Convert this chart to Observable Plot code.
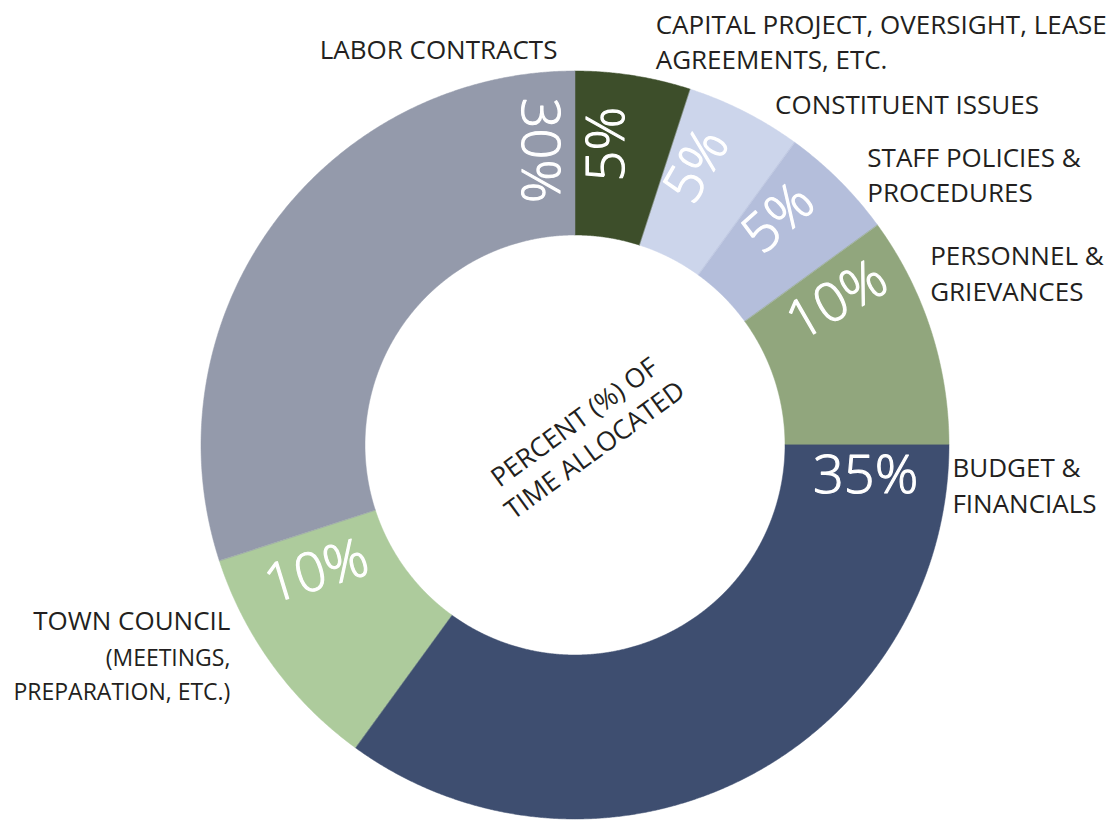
<!DOCTYPE html>
<html><head><meta charset="utf-8">
<script src="https://cdn.jsdelivr.net/npm/d3@7"></script>
<script src="https://cdn.jsdelivr.net/npm/@observablehq/plot@0.6"></script>
<style>html,body{margin:0;padding:0;background:#fff}</style>
</head><body><div id="chart"></div>
<script>
// ---- data ----
const categories = [
  "Capital project, oversight, lease agreements, etc.",
  "Constituent issues",
  "Staff policies & procedures",
  "Personnel & grievances",
  "Budget & financials",
  "Town council",
  "Labor contracts"
];
const percents = [5, 5, 5, 10, 35, 10, 30];
const percentLabels = ["5%", "5%", "5%", "10%", "35%", "10%", "30%"];
const categoryLabels = [
  "CAPITAL PROJECT, OVERSIGHT, LEASE\nAGREEMENTS, ETC.",
  "CONSTITUENT ISSUES",
  "STAFF POLICIES &\nPROCEDURES",
  "PERSONNEL &\nGRIEVANCES",
  "BUDGET &\nFINANCIALS",
  "TOWN COUNCIL",
  "LABOR CONTRACTS"
];
const categoryNotes = ["", "", "", "", "", "(MEETINGS,\nPREPARATION, ETC.)", ""];
const centerTitle = "PERCENT (%) OF\nTIME ALLOCATED";
const colors = ["#3d4e2a", "#ccd5eb", "#b4bedb", "#91a67d", "#3e4e70", "#adcb9c", "#949aab"];

// ---- layout (styling only) ----
const W = 1115, H = 821, CX = 575, CY = 445, R = 374, INNER = 0.5615;
const valueLayout = [ // angle (deg clockwise from top), radius (fraction of outer), rotation
  {angle: 6, r: 0.81, rotate: -90},
  {angle: 23.5, r: 0.815, rotate: -60},
  {angle: 41.8, r: 0.815, rotate: -42},
  {angle: 61, r: 0.80, rotate: -30},
  {angle: 96, r: 0.78, rotate: 0},
  {angle: 244, r: 0.77, rotate: -17},
  {angle: -7, r: 0.795, rotate: 90}
];
const nameLayout = [
  {angle: 11.2, r: 1.104, anchor: "start"},
  {angle: 30.2, r: 1.061, anchor: "start"},
  {angle: 47, r: 1.067, anchor: "start"},
  {angle: 63.9, r: 1.056, anchor: "start"},
  {angle: 95.8, r: 1.013, anchor: "start"},
  {angle: 243.4, r: 1.032, anchor: "end"},
  {angle: -2.6, r: 1.064, anchor: "end"}
];
const noteLayout = {5: {angle: 236.7, r: 1.104}};

// ---- geometry from data ----
const pie = d3.pie().sort(null).value(d => d)(percents);
const ring = [];
pie.forEach((p, i) => {
  const n = Math.ceil((p.endAngle - p.startAngle) / (Math.PI / 720)) + 1;
  for (let k = 0; k < n; k++) {
    const a = p.startAngle + (p.endAngle - p.startAngle) * k / (n - 1);
    ring.push({cat: categories[i], x1: Math.sin(a), y1: Math.cos(a), x2: INNER * Math.sin(a), y2: INNER * Math.cos(a)});
  }
});
const rad = d => d * Math.PI / 180;
const polar = L => ({x: L.r * Math.sin(rad(L.angle)), y: L.r * Math.cos(rad(L.angle))});
const valueRows = percents.map((v, i) => ({text: percentLabels[i], ...polar(valueLayout[i]), rotate: valueLayout[i].rotate}));
const nameRows = categoryLabels.map((t, i) => ({text: t, ...polar(nameLayout[i]), anchor: nameLayout[i].anchor}));
const noteRows = categoryNotes.map((t, i) => t ? {text: t, ...polar(noteLayout[i])} : null).filter(Boolean);

const font = "'Open Sans', 'Noto Sans', sans-serif";
const ink = "#231f20";
const chart = Plot.plot({
  width: W, height: H,
  margin: 0,
  x: {domain: [-1, 1], range: [CX - R, CX + R], axis: null},
  y: {domain: [-1, 1], range: [CY + R, CY - R], axis: null},
  color: {domain: categories, range: colors},
  style: {background: "#fff"},
  marks: [
    Plot.area(ring, {x1: "x1", y1: "y1", x2: "x2", y2: "y2", z: "cat", fill: "cat", stroke: "cat", strokeWidth: 0.5}),
    Plot.text(valueRows, {x: "x", y: "y", text: "text", rotate: "rotate", fill: "white",
      stroke: "white", strokeWidth: 1.1, fontSize: 54, fontWeight: 300, fontFamily: font}),
    Plot.text(nameRows.filter(d => d.anchor === "start"), {x: "x", y: "y", text: "text", textAnchor: "start",
      fill: ink, fontSize: 26, lineHeight: 1.35, fontFamily: font}),
    Plot.text(nameRows.filter(d => d.anchor === "end"), {x: "x", y: "y", text: "text", textAnchor: "end",
      fill: ink, fontSize: 26, lineHeight: 1.35, fontFamily: font}),
    Plot.text(noteRows, {x: "x", y: "y", text: "text", textAnchor: "end",
      fill: ink, fontSize: 23, lineHeight: 1.5, fontFamily: font}),
    Plot.text([centerTitle], {x: 0.021, y: 0.029, text: d => d, rotate: -36,
      fill: ink, fontSize: 26.5, lineHeight: 1.3, fontFamily: font})
  ]
});
document.getElementById("chart").appendChild(chart);
</script>
</body></html>
